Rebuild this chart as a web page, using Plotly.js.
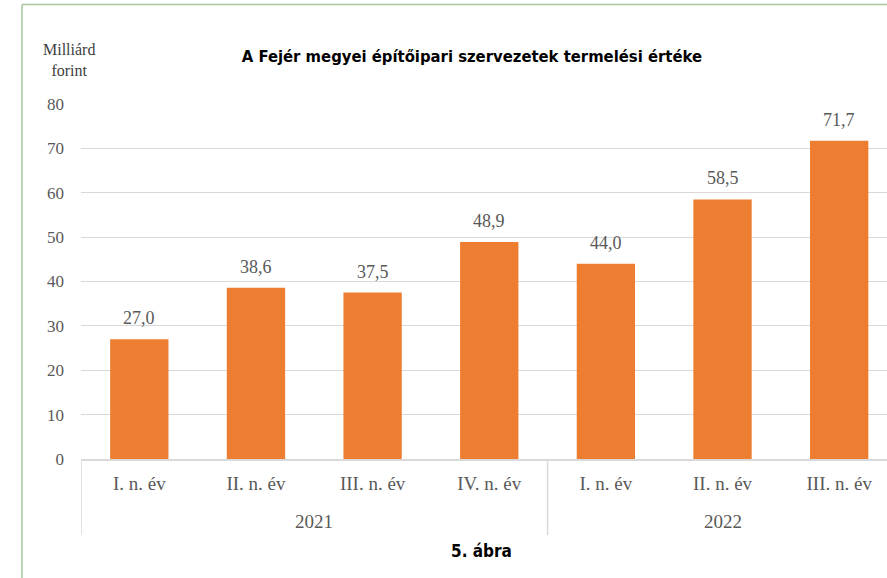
<!DOCTYPE html>
<html>
<head>
<meta charset="utf-8">
<script src="https://cdn.plot.ly/plotly-3.0.1.min.js"></script>
<style>html,body{margin:0;padding:0;background:#fff;}#chart{width:887px;height:578px;}</style>
</head>
<body>
<div id="chart"></div>
<script>
const years = ['2021','2021','2021','2021','2022','2022','2022'];
const quarters = ['I. n. év','II. n. év','III. n. év','IV. n. év','I. n. év','II. n. év','III. n. év'];
const values = [27.0, 38.6, 37.5, 48.9, 44.0, 58.5, 71.7];
const yTicks = [0,10,20,30,40,50,60,70,80];

const serif = 'Liberation Serif, Times New Roman, serif';
const grey = '#595959';
const idx = values.map((_, i) => i);

const trace = {
  type: 'bar',
  x: idx,
  y: values,
  marker: {color: '#ED7D31'},
  width: 0.5,
  hoverinfo: 'none'
};

const annotations = values.map((v, i) => ({
  x: i, xref: 'x', y: v, yref: 'y',
  text: v.toFixed(1).replace('.', ','),
  showarrow: false, yanchor: 'bottom', yshift: 9,
  font: {family: serif, size: 18, color: grey}
}));
annotations.push({
  xref: 'paper', yref: 'paper', x: -0.015, y: 1.066, xanchor: 'center', yanchor: 'bottom',
  text: 'Milliárd<br>forint', showarrow: false, align: 'center',
  font: {family: serif, size: 16, color: '#404040'}
});

// year group labels and dividers from data
const groups = [];
years.forEach((y, i) => {
  const g = groups.length ? groups[groups.length - 1] : null;
  if (g && g.year === y) g.end = i; else groups.push({year: y, start: i, end: i});
});
const shapes = [];
groups.forEach(g => {
  annotations.push({
    x: (g.start + g.end) / 2, xref: 'x', y: 0, yref: 'paper', yanchor: 'middle', yshift: -62,
    text: g.year, showarrow: false, font: {family: serif, size: 19, color: grey}
  });
  shapes.push({type: 'line', xref: 'x', yref: 'paper', x0: g.start - 0.5, x1: g.start - 0.5,
    y0: 0, y1: -0.214, line: {color: '#D9D9D9', width: 1.5}});
});
shapes.push(
  {type: 'line', xref: 'paper', yref: 'paper', x0: -0.0732, x1: -0.0732, y0: 1.28, y1: -0.36,
   line: {color: '#A9C79B', width: 1.5}},
  {type: 'line', xref: 'paper', yref: 'paper', x0: -0.0732, x1: 1.05, y0: 1.28, y1: 1.28,
   line: {color: '#A9C79B', width: 1.5}}
);
annotations.push({
  xref: 'paper', yref: 'paper', x: 0.497, y: -0.258, xanchor: 'center', yanchor: 'middle',
  text: '<b>5. ábra</b>', showarrow: false,
  font: {family: 'DejaVu Sans Condensed, DejaVu Sans, sans-serif', size: 17, color: '#000'}
});

const layout = {
  width: 887, height: 578,
  margin: {l: 81, r: 0, t: 104, b: 119},
  paper_bgcolor: '#fff', plot_bgcolor: '#fff',
  separators: ', ',
  title: {
    text: '<b>A Fejér megyei építőipari szervezetek termelési értéke</b>',
    x: 0.532, xref: 'container', xanchor: 'center', y: 0.903, yanchor: 'middle',
    font: {family: 'DejaVu Sans Condensed, DejaVu Sans, sans-serif', size: 16.5, color: '#000'}
  },
  showlegend: false,
  xaxis: {
    range: [-0.5, 6.41],
    tickvals: idx, ticktext: quarters,
    showline: true, linecolor: '#D9D9D9', linewidth: 1.5,
    tickfont: {family: serif, size: 19, color: grey},
    ticks: '', ticklabelstandoff: 7,
    showgrid: false, zeroline: false, fixedrange: true
  },
  yaxis: {
    range: [0, 80], tickvals: yTicks, ticktext: yTicks.map(String),
    showgrid: true, gridcolor: '#D9D9D9', gridwidth: 1.2,
    zeroline: false, showline: false, ticks: '',
    ticklabelstandoff: 16,
    tickfont: {family: serif, size: 17, color: grey}, fixedrange: true
  },
  annotations: annotations,
  shapes: shapes
};

Plotly.newPlot('chart', [trace], layout, {staticPlot: true, displayModeBar: false});
</script>
</body>
</html>
